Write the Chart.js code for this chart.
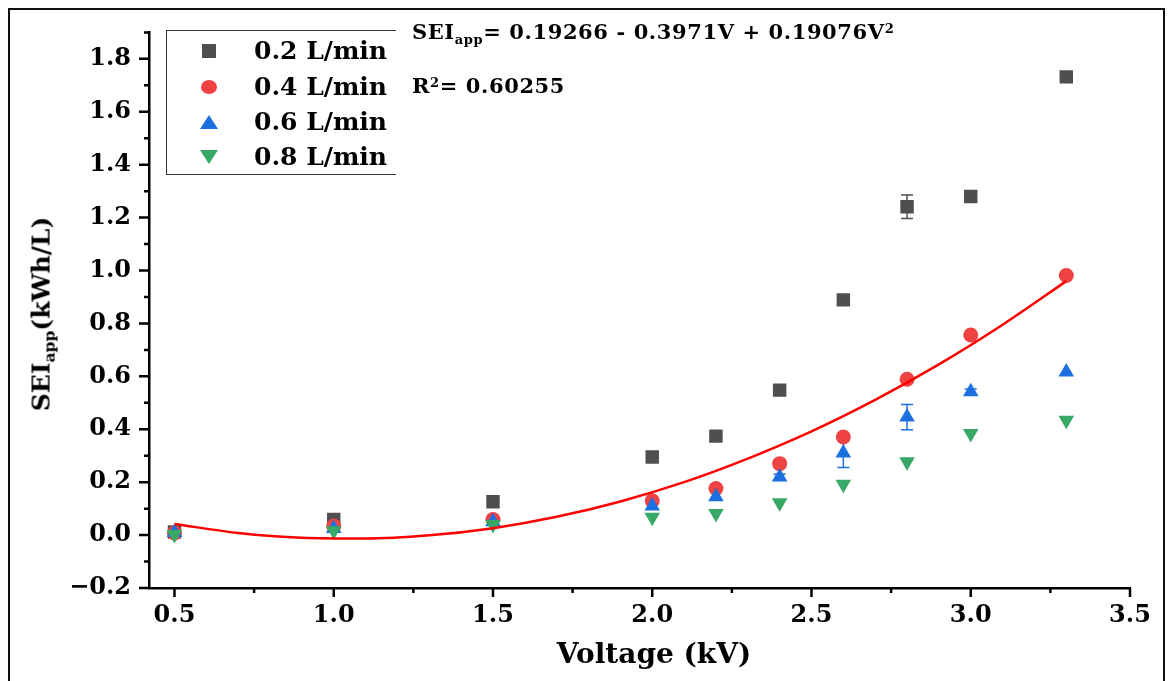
<!DOCTYPE html>
<html>
<head>
<meta charset="utf-8">
<script src="https://cdn.jsdelivr.net/npm/chart.js@4.4.0/dist/chart.umd.min.js"></script>
<style>
body { margin:0; background:#fff; }
#wrap { position:relative; width:1171px; height:681px; overflow:hidden; background:#fff; }
#frame { position:absolute; left:8px; top:8px; width:1153px; height:720px; border:2px solid #111; }
canvas { position:absolute; left:0; top:0; }
.txt { position:absolute; font-family:"DejaVu Serif", serif; font-weight:bold; color:#000; white-space:nowrap; line-height:1; }
#legend { position:absolute; left:166px; top:30px; width:229px; height:143px; border:1.5px solid #333; border-right:none; }
.row { position:absolute; left:0; height:30px; width:229px; }
.row svg { position:absolute; left:32px; top:5px; }
.row span { position:absolute; left:87px; top:2px; font-size:25px; }
sub { font-size:0.62em; vertical-align:-0.35em; }
sup { font-size:0.62em; vertical-align:0.5em; }
</style>
</head>
<body>
<div id="wrap">
  <div id="frame"></div>
  <canvas id="chart" width="1171" height="681"></canvas>
  <div id="legend"></div>
  <div class="txt" id="eq1" style="left:412px; top:21px; font-size:21px; letter-spacing:0.6px;">SEI<sub>app</sub>= 0.19266 - 0.3971V + 0.19076V<sup>2</sup></div>
  <div class="txt" id="eq2" style="left:412px; top:75px; font-size:21px; letter-spacing:0.6px;">R<sup>2</sup>= 0.60255</div>
  <div class="txt" id="ytitle" style="left:43px; top:314px; font-size:25px; transform:translate(-50%,-50%) rotate(-90deg);">SEI<sub>app</sub>(kWh/L)</div>
  <div class="txt" id="xtitle" style="left:654px; top:654px; font-size:28px; transform:translate(-50%,-50%);">Voltage (kV)</div>
</div>
<script>
const voltage = [0.5, 1.0, 1.5, 2.0, 2.2, 2.4, 2.6, 2.8, 3.0, 3.3];
const sei02 = [0.012, 0.059, 0.126, 0.295, 0.374, 0.548, 0.889, 1.241, 1.28, 1.732];
const sei04 = [0.008, 0.034, 0.059, 0.13, 0.176, 0.27, 0.371, 0.589, 0.756, 0.981];
const sei06 = [0.01, 0.025, 0.05, 0.11, 0.145, 0.22, 0.31, 0.446, 0.542, 0.616];
const sei08 = [0.002, 0.016, 0.04, 0.067, 0.082, 0.122, 0.192, 0.277, 0.384, 0.434];
const err02 = [0, 0, 0, 0, 0, 0, 0, 0.044, 0, 0];
const err06 = [0, 0, 0, 0, 0, 0.01, 0.055, 0.048, 0.01, 0];

// red fitted curve
const fitV = [0.5, 0.7, 0.9, 1.1, 1.3, 1.5, 1.7, 1.9, 2.1, 2.3, 2.5, 2.7, 2.9, 3.1, 3.3];
const fitSEI = [0.042, 0.008, -0.01, -0.013, -0.001, 0.026, 0.069, 0.127, 0.2, 0.289, 0.392, 0.511, 0.645, 0.795, 0.96];

const seriesNames = ['0.2 L/min', '0.4 L/min', '0.6 L/min', '0.8 L/min'];
const colors = ['#4f4f4f', '#ef4242', '#1c6fdf', '#37a866'];

const xTickLabels = [0.5, 1.0, 1.5, 2.0, 2.5, 3.0, 3.5];
const yTickLabels = [-0.2, 0.0, 0.2, 0.4, 0.6, 0.8, 1.0, 1.2, 1.4, 1.6, 1.8];

function pts(ys) {
  return voltage.map((v, i) => ({x: v, y: ys[i]}));
}

// legend (html)
const markers = [
  '<rect x="3" y="3" width="14" height="14" fill="' + colors[0] + '"/>',
  '<ellipse cx="10" cy="10" rx="8" ry="7" fill="' + colors[1] + '"/>',
  '<polygon points="1,17 19,17 10,3" fill="' + colors[2] + '"/>',
  '<polygon points="1,3 19,3 10,17" fill="' + colors[3] + '"/>'
];
const rowTops = [5, 41, 76, 111];
let lg = document.getElementById('legend');
seriesNames.forEach((n, i) => {
  let d = document.createElement('div');
  d.className = 'row';
  d.style.top = rowTops[i] + 'px';
  d.innerHTML = '<svg width="20" height="20">' + markers[i] + '</svg><span class="txt">' + n + '</span>';
  lg.appendChild(d);
});

const errorBars = {
  id: 'errorBars',
  beforeDatasetsDraw(chart) {
    const ctx = chart.ctx, xs = chart.scales.x, ys = chart.scales.y;
    const sets = [[sei02, err02, colors[0]], [sei06, err06, colors[2]]];
    ctx.save();
    ctx.lineWidth = 1.5;
    sets.forEach(s => {
      ctx.strokeStyle = s[2];
      voltage.forEach((v, i) => {
        if (!s[1][i]) return;
        const px = xs.getPixelForValue(v);
        const top = ys.getPixelForValue(s[0][i] + s[1][i]);
        const bot = ys.getPixelForValue(s[0][i] - s[1][i]);
        ctx.beginPath();
        ctx.moveTo(px, top); ctx.lineTo(px, bot);
        ctx.moveTo(px - 6, top); ctx.lineTo(px + 6, top);
        ctx.moveTo(px - 6, bot); ctx.lineTo(px + 6, bot);
        ctx.stroke();
      });
    });
    ctx.restore();
  }
};

// major + minor tick marks drawn outward
const tickMarks = {
  id: 'tickMarks',
  afterDraw(chart) {
    const ctx = chart.ctx, xs = chart.scales.x, ys = chart.scales.y;
    const area = chart.chartArea;
    ctx.save();
    ctx.strokeStyle = '#000';
    ctx.lineWidth = 2.5;
    ctx.beginPath();
    for (let k = 2; k <= 14; k++) {
      const v = k * 0.25;
      const px = xs.getPixelForValue(v);
      const len = k % 2 === 0 ? 9 : 5;
      ctx.moveTo(px, area.bottom); ctx.lineTo(px, area.bottom + len);
    }
    for (let k = -2; k <= 19; k++) {
      const py = ys.getPixelForValue(k / 10);
      const len = k % 2 === 0 ? 10 : 5;
      ctx.moveTo(area.left, py); ctx.lineTo(area.left - len, py);
    }
    ctx.stroke();
    ctx.restore();
  }
};

Chart.defaults.font.family = '"DejaVu Serif", serif';
Chart.defaults.font.weight = 'bold';
Chart.defaults.color = '#000';

new Chart(document.getElementById('chart'), {
  type: 'scatter',
  data: {
    datasets: [
      {label: 'fit', type: 'line', data: fitV.map((v, i) => ({x: v, y: fitSEI[i]})), borderColor: '#ff0000', borderWidth: 2.5, pointRadius: 0, cubicInterpolationMode: 'monotone', showLine: true, fill: false, order: 0},
      {label: seriesNames[3], data: pts(sei08), pointStyle: 'triangle', rotation: 180, pointRadius: 9, backgroundColor: colors[3], borderWidth: 0, order: 1},
      {label: seriesNames[2], data: pts(sei06), pointStyle: 'triangle', pointRadius: 9, backgroundColor: colors[2], borderWidth: 0, order: 2},
      {label: seriesNames[1], data: pts(sei04), pointStyle: 'circle', pointRadius: 7.5, backgroundColor: colors[1], borderWidth: 0, order: 3},
      {label: seriesNames[0], data: pts(sei02), pointStyle: 'rect', pointRadius: 9.5, backgroundColor: colors[0], borderWidth: 0, order: 4}
    ]
  },
  options: {
    responsive: false,
    animation: false,
    layout: {padding: {top: 31, right: 41, left: 0, bottom: 0}},
    plugins: {legend: {display: false}, tooltip: {enabled: false}},
    scales: {
      x: {
        type: 'linear', min: 0.42, max: 3.5,
        afterBuildTicks: s => { s.ticks = xTickLabels.map(v => ({value: v})); },
        afterFit: s => { s.height = 93; },
        ticks: {font: {size: 24, weight: 'bold'}, padding: 13, callback: v => v.toFixed(1)},
        grid: {drawOnChartArea: false, drawTicks: false},
        border: {display: true, color: '#000', width: 2.5}
      },
      y: {
        type: 'linear', min: -0.2, max: 1.9,
        afterBuildTicks: s => { s.ticks = yTickLabels.map(v => ({value: v})); },
        afterFit: s => { s.width = 149; },
        ticks: {font: {size: 24, weight: 'bold'}, padding: 18, callback: v => (v < 0 ? '\u2212' : '') + Math.abs(v).toFixed(1)},
        grid: {drawOnChartArea: false, drawTicks: false},
        border: {display: true, color: '#000', width: 2.5}
      }
    }
  },
  plugins: [errorBars, tickMarks]
});
</script>
</body>
</html>
